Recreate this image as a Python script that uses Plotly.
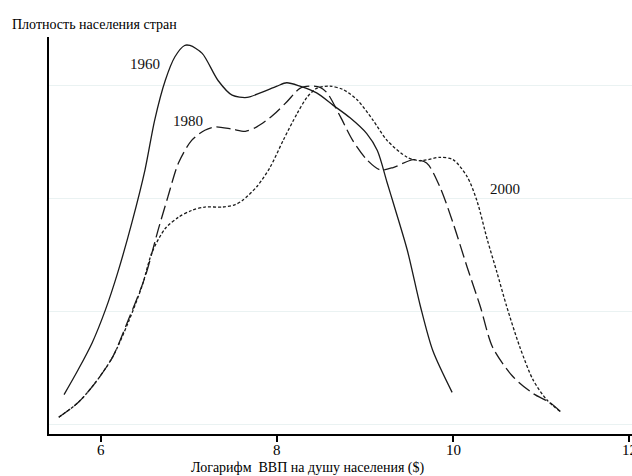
import plotly.graph_objects as go

# 1960 (solid)
x1960 = [5.58, 5.74, 5.90, 6.05, 6.19, 6.35, 6.50, 6.61, 6.73, 6.84, 6.95, 7.01, 7.15, 7.33, 7.49,
         7.66, 7.81, 8.00, 8.11, 8.26, 8.45, 8.64, 8.83, 9.02, 9.14, 9.25, 9.32, 9.48, 9.63, 9.77, 9.99]
y1960 = [0.026, 0.048, 0.072, 0.101, 0.134, 0.178, 0.225, 0.269, 0.304, 0.325, 0.335, 0.335, 0.328, 0.304, 0.291,
         0.289, 0.293, 0.299, 0.302, 0.299, 0.293, 0.282, 0.271, 0.257, 0.242, 0.214, 0.196, 0.154, 0.104, 0.065, 0.028]

# 1980 (dashed)
x1980 = [5.52, 5.74, 5.93, 6.13, 6.31, 6.50, 6.65, 6.76, 6.88, 7.03, 7.18, 7.30, 7.49, 7.64, 7.77, 7.95,
         8.11, 8.26, 8.38, 8.49, 8.57, 8.72, 8.86, 9.02, 9.17, 9.32, 9.55, 9.70, 9.85, 10.00, 10.16, 10.31,
         10.45, 10.68, 10.91, 11.10, 11.22]
y1980 = [0.006, 0.019, 0.036, 0.059, 0.092, 0.130, 0.172, 0.201, 0.231, 0.251, 0.260, 0.263, 0.261, 0.259, 0.263, 0.273,
         0.285, 0.297, 0.299, 0.298, 0.293, 0.272, 0.251, 0.234, 0.225, 0.227, 0.234, 0.231, 0.210, 0.178, 0.139, 0.104,
         0.068, 0.042, 0.027, 0.019, 0.011]

# 2000 (dotted)
x2000 = [5.52, 5.74, 5.93, 6.13, 6.31, 6.47, 6.58, 6.73, 6.88, 7.03, 7.18, 7.38, 7.52, 7.61, 7.77, 7.92,
         8.07, 8.23, 8.34, 8.45, 8.60, 8.75, 8.91, 9.09, 9.25, 9.48, 9.63, 9.85, 10.00, 10.16, 10.27, 10.39,
         10.50, 10.61, 10.76, 10.91, 11.07, 11.22]
y2000 = [0.006, 0.019, 0.036, 0.059, 0.090, 0.123, 0.152, 0.173, 0.183, 0.189, 0.192, 0.192, 0.194, 0.198, 0.210, 0.227,
         0.251, 0.275, 0.289, 0.297, 0.299, 0.296, 0.287, 0.269, 0.251, 0.236, 0.233, 0.236, 0.234, 0.219, 0.198, 0.163,
         0.134, 0.104, 0.068, 0.039, 0.021, 0.011]

series_labels = ["1960", "1980", "2000"]
label_x = [6.50, 6.99, 10.59]
label_y = [0.319, 0.268, 0.208]

x_ticks = [6, 8, 10, 12]
x_tick_text = ["6", "8", "10", "12"]
y_grid = [0, 0.1, 0.2, 0.3]

y_title = "Плотность населения стран"
x_title = "Логарифм  ВВП на душу населения ($)"

FONT = "Liberation Serif"
LC = "#1a1a1a"

fig = go.Figure()
fig.add_trace(go.Scatter(x=x1960, y=y1960, mode="lines",
                         line=dict(color=LC, width=1.3, shape="spline", smoothing=0.8)))
fig.add_trace(go.Scatter(x=x1980, y=y1980, mode="lines",
                         line=dict(color=LC, width=1.3, dash="14px,5px", shape="spline", smoothing=0.8)))
fig.add_trace(go.Scatter(x=x2000, y=y2000, mode="lines",
                         line=dict(color=LC, width=1.3, dash="3px,2px", shape="spline", smoothing=0.8)))

for t, xx, yy in zip(series_labels, label_x, label_y):
    fig.add_annotation(x=xx, y=yy, text=t, showarrow=False, xref="x", yref="y",
                       font=dict(family=FONT, size=15, color="#111"))

# tick labels drawn as annotations so the last one ("12") is cut by the window edge like the original
for tv, tt in zip(x_ticks, x_tick_text):
    fig.add_annotation(x=tv, y=-0.0403, xref="x", yref="paper", text=tt, showarrow=False,
                       xanchor="center", yanchor="middle", font=dict(family=FONT, size=15, color="#000"))

fig.add_annotation(x=-0.0669, y=1.0327, xref="paper", yref="paper", text=y_title, showarrow=False,
                   xanchor="left", yanchor="middle", font=dict(family=FONT, size=14, color="#000"))
fig.add_annotation(x=0.4442, y=-0.0857, xref="paper", yref="paper", text=x_title, showarrow=False,
                   xanchor="center", yanchor="middle", font=dict(family=FONT, size=14, color="#000"))

fig.update_layout(
    width=632, height=476,
    margin=dict(l=49, r=0, t=37, b=42),
    paper_bgcolor="white", plot_bgcolor="white",
    showlegend=False,
    xaxis=dict(range=[5.409, 12.034], tickvals=x_ticks, showticklabels=False,
               showgrid=False, zeroline=False, showline=True, linecolor="#000", linewidth=1.5,
               ticks="outside", ticklen=6, tickcolor="#000", tickwidth=1.5),
    yaxis=dict(range=[-0.00885, 0.3425], tickvals=y_grid, showticklabels=False,
               showgrid=True, gridcolor="#eaf2f2", gridwidth=1.2, zeroline=False,
               showline=True, linecolor="#000", linewidth=1.5, ticks=""),
)

fig.write_html("out.html", config={"displayModeBar": False})

# remove default page margin so the figure fills the window exactly
with open("out.html", "r", encoding="utf-8") as f:
    html = f.read()
html = html.replace("<head>", "<head><style>html,body{margin:0;padding:0;overflow:hidden;}</style>", 1)
with open("out.html", "w", encoding="utf-8") as f:
    f.write(html)
